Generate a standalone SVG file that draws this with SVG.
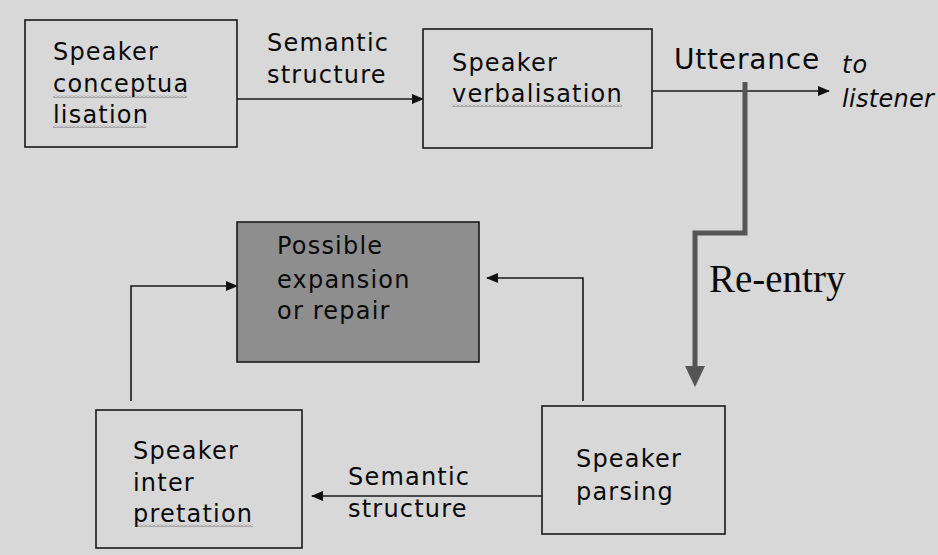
<svg xmlns="http://www.w3.org/2000/svg" width="938" height="555" viewBox="0 0 938 555">
<defs>
<style>
.box{fill:#d8d8d8;stroke:#1a1a1a;stroke-width:1.6}
.grey{fill:#8e8e8e;stroke:#1a1a1a;stroke-width:1.6}
.t{font-family:"DejaVu Sans",Verdana,sans-serif;font-size:24px;letter-spacing:1.2px;fill:#0a0a0a}
.it{font-style:italic}
.big{font-size:28px;letter-spacing:0.8px}
.serif{font-family:"Liberation Serif","Times New Roman",serif;font-size:39px;fill:#0a0a0a}
.c{fill:none;stroke:#1a1a1a;stroke-width:1.6}
.thick{fill:none;stroke:#555;stroke-width:5}
</style>
<marker id="ah" markerUnits="userSpaceOnUse" markerWidth="12" markerHeight="10" refX="11" refY="5" orient="auto">
<path d="M0,0 L12,5 L0,10 Z" fill="#111"/>
</marker>
<pattern id="wave" patternUnits="userSpaceOnUse" width="4" height="3">
<path d="M0,2.5 L2,0.5 L4,2.5" fill="none" stroke="#6a6a6a" stroke-width="0.9"/>
</pattern>
</defs>
<rect width="938" height="555" fill="#d8d8d8"/>

<g id="connectors">
<path class="c" d="M237,99 H423" marker-end="url(#ah)"/>
<path class="c" d="M652,91 H829" marker-end="url(#ah)"/>
<path class="c" d="M131,401 V286 H237" marker-end="url(#ah)"/>
<path class="c" d="M583,401 V278 H487" marker-end="url(#ah)"/>
<path class="c" d="M542,496 H312" marker-end="url(#ah)"/>
<path class="thick" d="M745,82 V233 H695 V368"/>
<polygon points="685,366 705,366 695,387" fill="#555"/>
<text class="t" x="267" y="51">Semantic</text>
<text class="t" x="267" y="83">structure</text>
<text class="t big" x="674" y="69">Utterance</text>
<text class="t it" x="842" y="73">to</text>
<text class="t it" x="842" y="107" style="letter-spacing:0.3px">listener</text>
<text class="serif" x="709" y="292">Re-entry</text>
<text class="t" x="348" y="485">Semantic</text>
<text class="t" x="348" y="517">structure</text>
</g>

<g id="conceptualisation">
<rect class="box" x="25" y="20" width="212" height="127"/>
<rect x="53" y="95" width="134" height="3" fill="url(#wave)"/>
<rect x="53" y="125" width="93" height="3" fill="url(#wave)"/>
<text class="t" x="53" y="60">Speaker</text>
<text class="t" x="53" y="92">conceptua</text>
<text class="t" x="53" y="123">lisation</text>
</g>

<g id="verbalisation">
<rect class="box" x="423" y="29" width="229" height="119"/>
<rect x="452" y="104" width="170" height="3" fill="url(#wave)"/>
<text class="t" x="452" y="71">Speaker</text>
<text class="t" x="452" y="102">verbalisation</text>
</g>

<g id="expansion">
<rect class="grey" x="237" y="222" width="242" height="140"/>
<text class="t" x="277" y="254">Possible</text>
<text class="t" x="277" y="288">expansion</text>
<text class="t" x="277" y="319">or repair</text>
</g>

<g id="interpretation">
<rect class="box" x="96" y="410" width="206" height="138"/>
<rect x="135" y="524" width="118" height="3" fill="url(#wave)"/>
<text class="t" x="133" y="459">Speaker</text>
<text class="t" x="133" y="491">inter</text>
<text class="t" x="133" y="522">pretation</text>
</g>

<g id="parsing">
<rect class="box" x="542" y="406" width="183" height="128"/>
<text class="t" x="576" y="467">Speaker</text>
<text class="t" x="576" y="500">parsing</text>
</g>
</svg>
